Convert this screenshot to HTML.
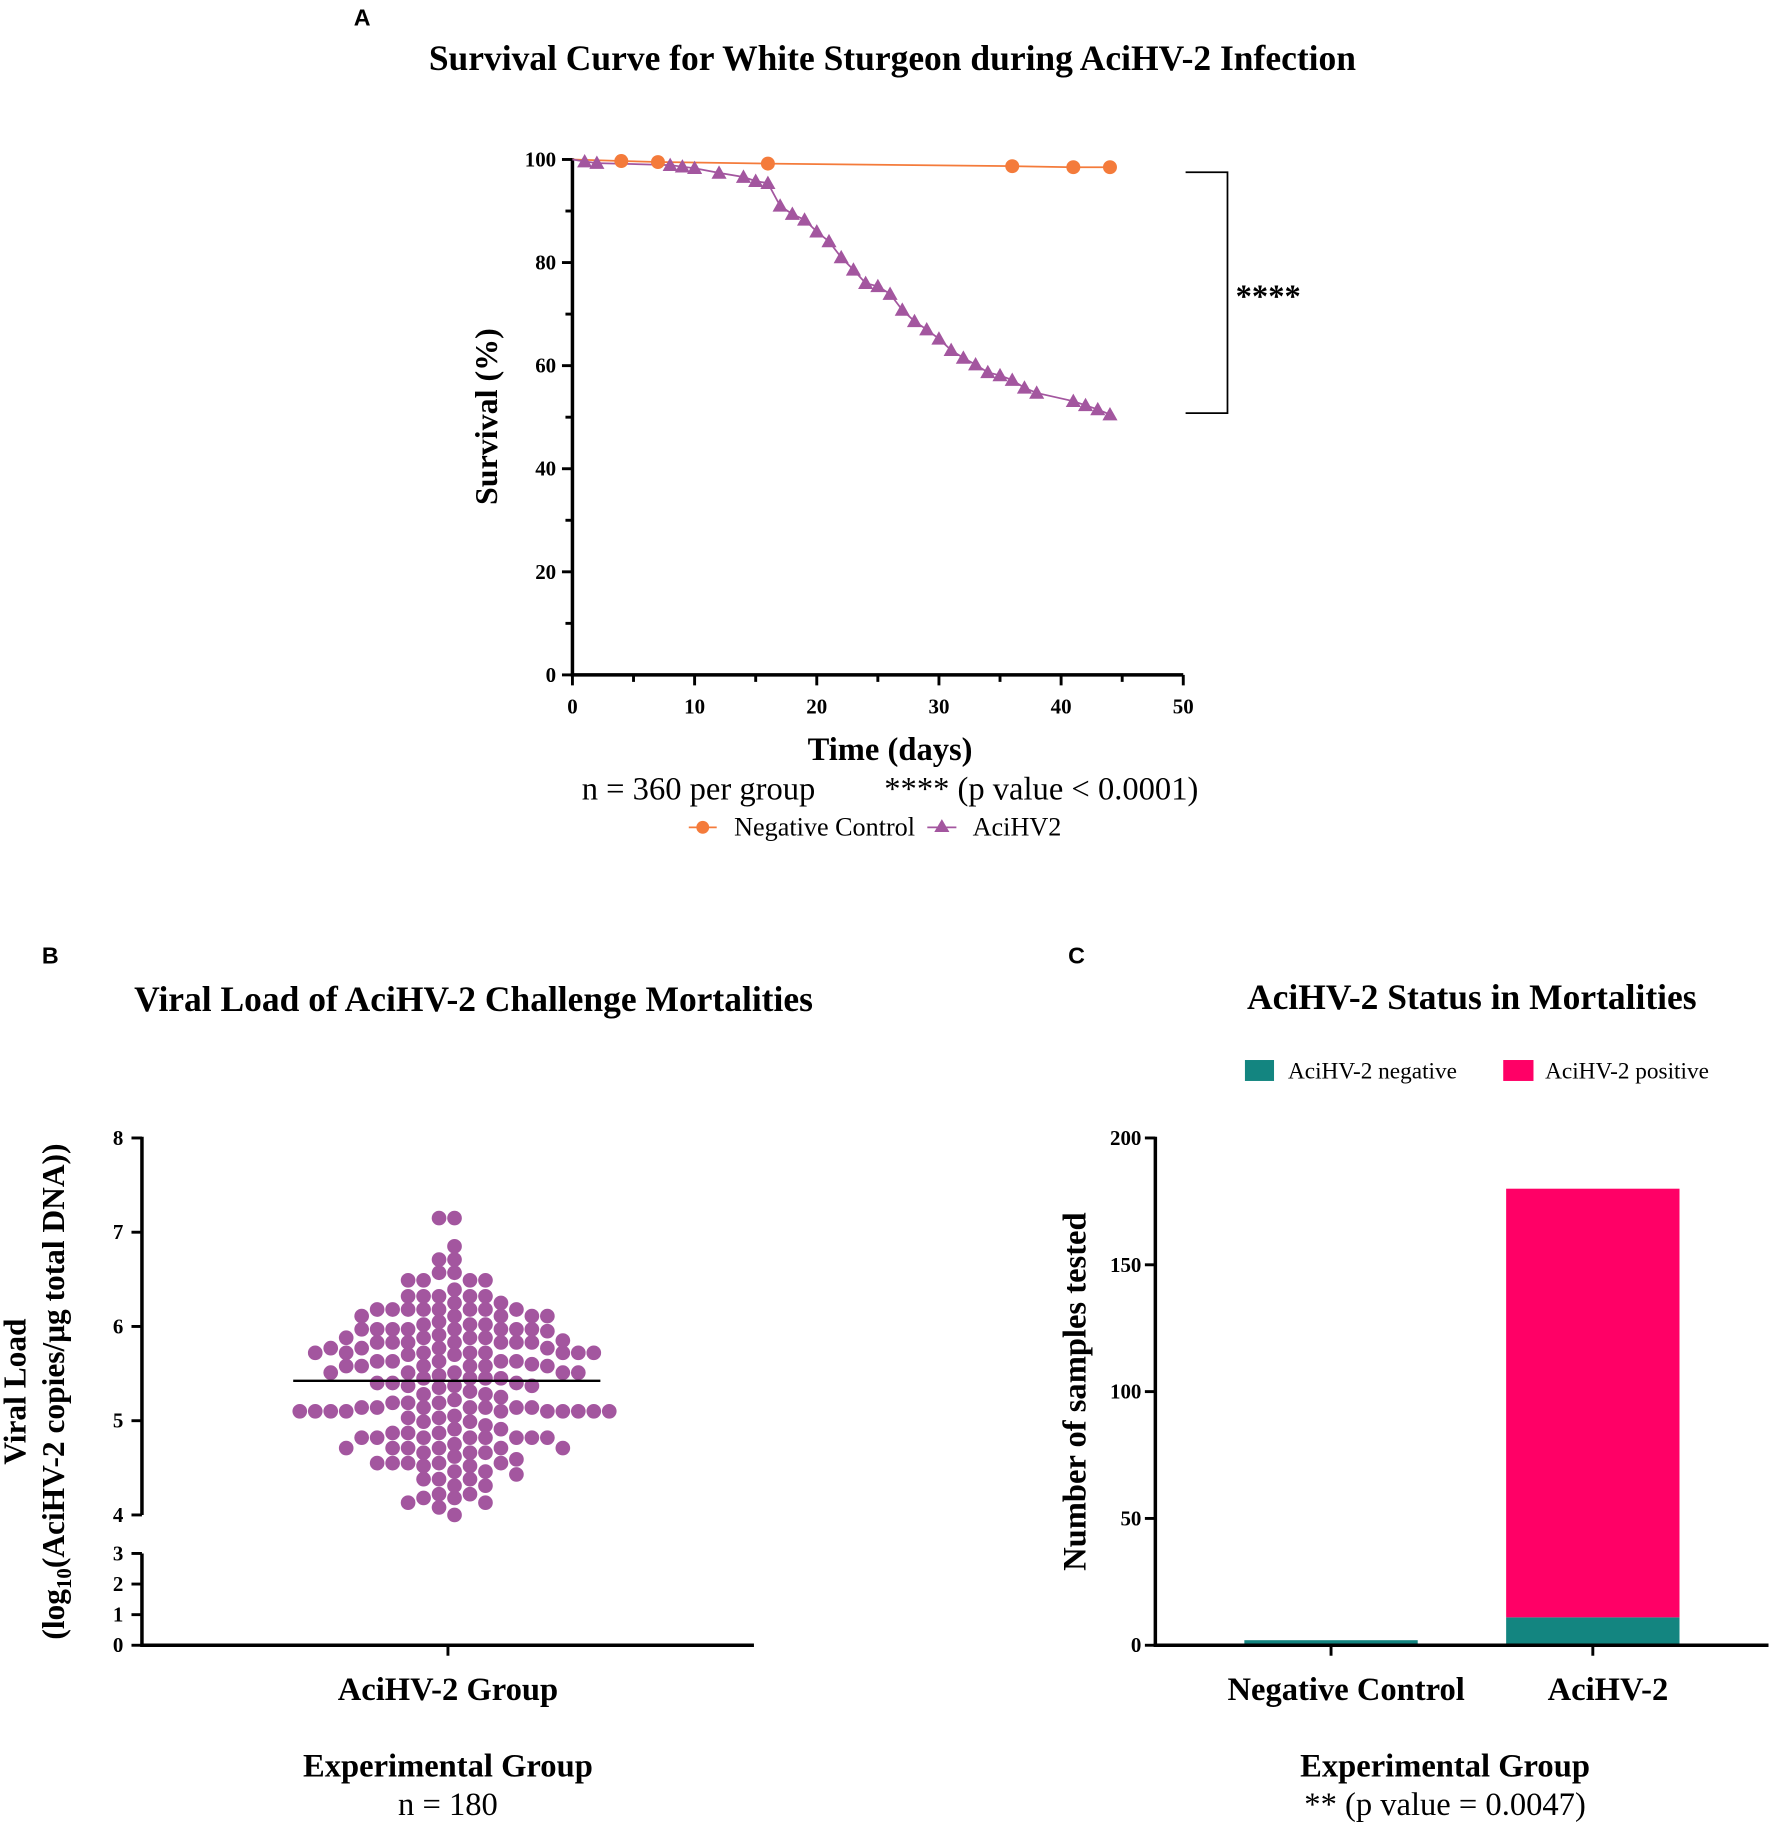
<!DOCTYPE html>
<html><head><meta charset="utf-8">
<style>
html,body{margin:0;padding:0;background:#fff;}
svg{display:block;}
.serif{font-family:"Liberation Serif",serif;}
.sans{font-family:"Liberation Sans",sans-serif;}
</style></head>
<body>
<svg id="fig" width="1772" height="1828" viewBox="0 0 1523 1571" xmlns="http://www.w3.org/2000/svg">
<g id="pa">
  <text x="304" y="22" class="sans" font-size="20" font-weight="bold">A</text>
  <text x="767" y="60" text-anchor="middle" class="serif" font-size="30.5" font-weight="bold">Survival Curve for White Sturgeon during AciHV-2 Infection</text>
  <text transform="translate(427,358) rotate(-90)" text-anchor="middle" class="serif" font-size="27.5" font-weight="bold">Survival (%)</text>
  <text x="765" y="653" text-anchor="middle" class="serif" font-size="28" font-weight="bold">Time (days)</text>
  <text x="500" y="687" class="serif" font-size="28">n = 360 per group</text>
  <text x="760" y="687" class="serif" font-size="28">**** (p value &lt; 0.0001)</text>
  <path d="M1019,148 H1055 V355 H1019" fill="none" stroke="#000" stroke-width="1.5"/>
  <text x="1062" y="264" class="serif" font-size="28" font-weight="bold">****</text>
  <g>
    <line x1="592" y1="711" x2="616" y2="711" stroke="#f47b3b" stroke-width="1.5"/>
    <circle cx="604" cy="711" r="5.5" fill="#f47b3b"/>
    <text x="631" y="718" class="serif" font-size="22.5">Negative Control</text>
  </g>
  <g>
    <line x1="797" y1="711" x2="822" y2="711" stroke="#a3569f" stroke-width="1.5"/>
    <polygon points="809.5,704 816,715 803,715" fill="#a3569f"/>
    <text x="836" y="718" class="serif" font-size="22.5">AciHV2</text>
  </g>
</g>
<g id="pb">
  <text x="36" y="828" class="sans" font-size="20" font-weight="bold">B</text>
  <text x="407" y="869" text-anchor="middle" class="serif" font-size="30.5" font-weight="bold">Viral Load of AciHV-2 Challenge Mortalities</text>
  <text transform="translate(22,1196) rotate(-90)" text-anchor="middle" class="serif" font-size="27" font-weight="bold">Viral Load</text>
  <text transform="translate(55,1196) rotate(-90)" text-anchor="middle" class="serif" font-size="27" font-weight="bold">(log<tspan font-size="18" dy="6">10</tspan><tspan dy="-6">(AciHV-2 copies/μg total DNA))</tspan></text>
  <text x="385" y="1461" text-anchor="middle" class="serif" font-size="28" font-weight="bold">AciHV-2 Group</text>
  <text x="385" y="1527" text-anchor="middle" class="serif" font-size="28" font-weight="bold">Experimental Group</text>
  <text x="385" y="1560" text-anchor="middle" class="serif" font-size="28">n = 180</text>
</g>
<g id="pc">
  <text x="918" y="828" class="sans" font-size="20" font-weight="bold">C</text>
  <text x="1265" y="867" text-anchor="middle" class="serif" font-size="30.5" font-weight="bold">AciHV-2 Status in Mortalities</text>
  <g>
    <rect x="1070" y="911" width="25" height="18" fill="#138580"/>
    <text x="1107" y="927" class="serif" font-size="20">AciHV-2 negative</text>
  </g>
  <g>
    <rect x="1292" y="911" width="26" height="18" fill="#ff0066"/>
    <text x="1328" y="927" class="serif" font-size="20">AciHV-2 positive</text>
  </g>
  <text transform="translate(933,1196) rotate(-90)" text-anchor="middle" class="serif" font-size="28" font-weight="bold">Number of samples tested</text>
  <text x="1242" y="1527" text-anchor="middle" class="serif" font-size="28" font-weight="bold">Experimental Group</text>
  <text x="1242" y="1560" text-anchor="middle" class="serif" font-size="28">** (p value = 0.0047)</text>
</g>
</svg>
<script>
// ---------- Panel A data ----------
const ctrlDays = [0, 4, 7, 16, 36, 41, 44];
const ctrlSurv = [100, 99.7, 99.5, 99.2, 98.7, 98.5, 98.5];
const virDays = [0, 1, 2, 8, 9, 10, 12, 14, 15, 16, 17, 18, 19, 20, 21, 22, 23, 24, 25, 26, 27, 28, 29, 30, 31, 32, 33, 34, 35, 36, 37, 38, 41, 42, 43, 44];
const virSurv = [100, 99.6, 99.3, 98.9, 98.6, 98.3, 97.4, 96.6, 95.8, 95.4, 91.0, 89.4, 88.3, 86.0, 84.1, 81.0, 78.6, 76.0, 75.4, 73.9, 70.8, 68.6, 67.0, 65.2, 63.0, 61.5, 60.2, 58.7, 58.1, 57.2, 55.7, 54.7, 53.1, 52.3, 51.5, 50.5];
const survYTicks = [0, 20, 40, 60, 80, 100];
const survXTicks = [0, 10, 20, 30, 40, 50];

// ---------- Panel B data (log10 viral load, one per fish) ----------
const viralLoad = [
7.15,7.15,6.85,6.71,6.71,6.57,6.57,6.49,6.49,6.49,6.49,6.39,
6.32,6.32,6.32,6.32,6.32,6.25,6.25,6.18,6.18,6.18,6.18,6.18,6.18,6.18,6.18,
6.11,6.11,6.11,6.11,6.11,6.02,6.02,6.02,5.97,5.97,5.97,5.97,5.97,5.97,5.97,5.97,
5.91,5.88,5.88,5.88,5.88,5.83,5.83,5.83,5.83,5.83,5.83,5.83,5.77,5.77,5.77,5.77,
5.72,5.72,5.72,5.72,5.72,5.72,5.72,5.72,5.70,5.70,5.63,5.63,5.63,5.63,5.63,
5.58,5.58,5.58,5.58,5.58,5.58,5.51,5.51,5.51,5.51,5.51,5.45,5.45,5.45,5.45,
5.40,5.40,5.40,5.37,5.37,5.37,5.31,5.28,5.28,5.19,5.19,5.19,
5.14,5.14,5.14,5.14,5.14,5.14,5.14,5.10,5.10,5.10,5.10,5.10,5.10,5.10,5.10,5.10,5.10,
5.03,5.03,4.99,4.99,4.91,4.91,4.87,4.87,4.87,4.82,4.82,4.82,4.82,4.82,4.82,4.82,4.82,
4.71,4.71,4.71,4.71,4.71,4.71,4.66,4.66,4.66,4.59,4.55,4.55,4.55,4.55,4.55,4.52,4.52,
4.46,4.46,4.43,4.38,4.38,4.38,4.31,4.31,4.22,4.22,4.18,4.18,4.13,4.13,4.08,4.00,
5.95,5.60,5.35,5.25,5.05,4.95,4.75,5.85,6.05,5.48,4.62,5.22
];
const vlUpperTicks = [4, 5, 6, 7, 8];
const vlLowerTicks = [0, 1, 2, 3];

// ---------- Panel C data ----------
const groups = ['Negative Control', 'AciHV-2'];
const negCounts = [2, 11];
const posCounts = [0, 169];
const countTicks = [0, 50, 100, 150, 200];

const NS = 'http://www.w3.org/2000/svg';
function mk(tag, attrs, parent) {
  const e = document.createElementNS(NS, tag);
  for (const k in attrs) e.setAttribute(k, attrs[k]);
  parent.appendChild(e);
  return e;
}
const pa = document.getElementById('pa');
const pb = document.getElementById('pb');
const pc = document.getElementById('pc');

// ===== Panel A =====
const ax = d => 492 + d * 10.5;
const ay = v => 580 - v * 4.43;
let axY = mk('line', {x1: 492, y1: ay(100) - 1, x2: 492, y2: 581, stroke: '#000', 'stroke-width': 3}, pa);


let axX = mk('line', {x1: 490.5, y1: 580, x2: ax(50), y2: 580, stroke: '#000', 'stroke-width': 3}, pa);


for (let v = 0; v <= 100; v += 10) {
  const major = survYTicks.includes(v);
  const t = mk('line', {x1: major ? 483 : 486, y1: ay(v), x2: 492, y2: ay(v), stroke: '#000', 'stroke-width': 2.5}, pa);
  
  
}
survYTicks.forEach(v => {
  const t = mk('text', {x: 478, y: ay(v) + 6, 'text-anchor': 'end', class: 'serif', 'font-size': 18, 'font-weight': 'bold'}, pa);
  t.textContent = v;
  
  
});
for (let d = 0; d <= 50; d += 5) {
  const major = survXTicks.includes(d);
  const t = mk('line', {x1: ax(d), y1: 580, x2: ax(d), y2: major ? 589 : 586, stroke: '#000', 'stroke-width': 2.5}, pa);
  
  
}
survXTicks.forEach(d => {
  const t = mk('text', {x: ax(d), y: 613, 'text-anchor': 'middle', class: 'serif', 'font-size': 18, 'font-weight': 'bold'}, pa);
  t.textContent = d;
  
  
});
const ctrlLine = mk('polyline', {points: ctrlDays.map((d, i) => ax(d) + ',' + ay(ctrlSurv[i])).join(' '), fill: 'none', stroke: '#f47b3b', 'stroke-width': 1.5}, pa);


const virLine = mk('polyline', {points: virDays.map((d, i) => ax(d) + ',' + ay(virSurv[i])).join(' '), fill: 'none', stroke: '#a3569f', 'stroke-width': 1.5}, pa);


virDays.forEach((d, i) => {
  if (d === 0) return;
  const x = ax(d), y = ay(virSurv[i]);
  const p = mk('polygon', {points: `${x},${y - 6.5} ${x + 6.5},${y + 5} ${x - 6.5},${y + 5}`, fill: '#a3569f'}, pa);
  
  
});
ctrlDays.forEach((d, i) => {
  if (d === 0) return;
  const c = mk('circle', {cx: ax(d), cy: ay(ctrlSurv[i]), r: 6, fill: '#f47b3b'}, pa);
  
  
});

// ===== Panel B =====
const byU = v => 1302 - (v - 4) * 81;
const byL = v => 1414 - v * 26.3;
const bAxisU = mk('line', {x1: 122, y1: byU(8) - 1, x2: 122, y2: byU(4), stroke: '#000', 'stroke-width': 3}, pb);


const bAxisL = mk('line', {x1: 122, y1: byL(3), x2: 122, y2: 1415, stroke: '#000', 'stroke-width': 3}, pb);


const bx = mk('line', {x1: 120.5, y1: 1414, x2: 648, y2: 1414, stroke: '#000', 'stroke-width': 3}, pb);


const bxt = mk('line', {x1: 385, y1: 1414, x2: 385, y2: 1423, stroke: '#000', 'stroke-width': 2.5}, pb);


vlUpperTicks.forEach(v => {
  const t = mk('line', {x1: 113, y1: byU(v), x2: 122, y2: byU(v), stroke: '#000', 'stroke-width': 2.5}, pb);
  
  
  const l = mk('text', {x: 106, y: byU(v) + 6, 'text-anchor': 'end', class: 'serif', 'font-size': 18, 'font-weight': 'bold'}, pb);
  l.textContent = v;
  
  
});
vlLowerTicks.forEach(v => {
  const t = mk('line', {x1: 113, y1: byL(v), x2: 122, y2: byL(v), stroke: '#000', 'stroke-width': 2.5}, pb);
  
  
  const l = mk('text', {x: 106, y: byL(v) + 6, 'text-anchor': 'end', class: 'serif', 'font-size': 18, 'font-weight': 'bold'}, pb);
  l.textContent = v;
  
  
});
// beeswarm layout in discrete columns
const colW = 13.3, rad = 6.3, cx0 = 384;
const sorted = viralLoad.slice().sort((a, b) => b - a);
const cols = {};
sorted.forEach(v => {
  const y = byU(v);
  const order = [];
  for (let k = 0; k < 12; k++) { order.push(k + 0.5); order.push(-(k + 0.5)); }
  for (const k of order) {
    const key = k.toFixed(1);
    const arr = cols[key] || [];
    if (arr.every(yy => Math.abs(yy - y) >= rad * 2 * 0.8)) {
      arr.push(y); cols[key] = arr;
      const c = mk('circle', {cx: cx0 + k * colW, cy: y, r: rad, fill: '#a3569f'}, pb);
      
      
      break;
    }
  }
});
const mean = viralLoad.reduce((a, b) => a + b, 0) / viralLoad.length;
const ml = mk('line', {x1: 252, y1: byU(mean), x2: 516, y2: byU(mean), stroke: '#000', 'stroke-width': 2}, pb);



// ===== Panel C =====
const cy = v => 1414 - v * 2.18;
const catX = [1144, 1369];
const barW = 149;
groups.forEach((g, i) => {
  const n = mk('rect', {x: catX[i] - barW / 2, y: cy(negCounts[i]), width: barW, height: cy(0) - cy(negCounts[i]), fill: '#138580'}, pc);
  
  
  if (posCounts[i] > 0) {
    const p = mk('rect', {x: catX[i] - barW / 2, y: cy(negCounts[i] + posCounts[i]), width: barW, height: cy(negCounts[i]) - cy(negCounts[i] + posCounts[i]), fill: '#ff0066'}, pc);
    
    
  }
  const t = mk('line', {x1: catX[i], y1: 1414, x2: catX[i], y2: 1423, stroke: '#000', 'stroke-width': 2.5}, pc);
  
  
  const l = mk('text', {x: catX[i] + 13, y: 1461, 'text-anchor': 'middle', class: 'serif', 'font-size': 28, 'font-weight': 'bold'}, pc);
  l.textContent = g;
  
  
});
const cY = mk('line', {x1: 993, y1: cy(200) - 1, x2: 993, y2: 1415, stroke: '#000', 'stroke-width': 3}, pc);


const cX = mk('line', {x1: 991.5, y1: 1414, x2: 1520, y2: 1414, stroke: '#000', 'stroke-width': 3}, pc);


countTicks.forEach(v => {
  const t = mk('line', {x1: 984, y1: cy(v), x2: 993, y2: cy(v), stroke: '#000', 'stroke-width': 2.5}, pc);
  
  
  const l = mk('text', {x: 981, y: cy(v) + 6, 'text-anchor': 'end', class: 'serif', 'font-size': 18, 'font-weight': 'bold'}, pc);
  l.textContent = v;
  
  
});
</script>
</body></html>
